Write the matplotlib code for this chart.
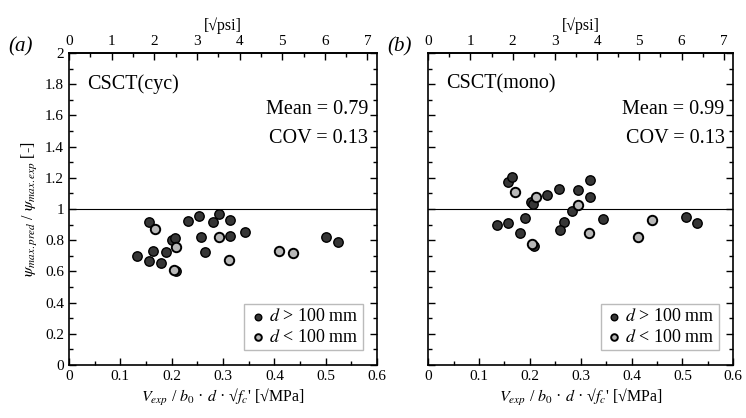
import numpy as np
import matplotlib
matplotlib.use('Agg')
import matplotlib.pyplot as plt
from matplotlib.ticker import MultipleLocator, FuncFormatter

plt.rcParams['font.family'] = ['Liberation Serif', 'DejaVu Serif']
plt.rcParams['mathtext.fontset'] = 'stix'
plt.rcParams['font.size'] = 11

# sqrt(MPa) -> sqrt(psi)
K = np.sqrt(145.038)

# CSCT(cyc): d > 100 mm
cyc_big_x = [0.155, 0.231, 0.254, 0.280, 0.292, 0.314, 0.200, 0.206, 0.257, 0.314,
             0.342, 0.133, 0.164, 0.155, 0.179, 0.189, 0.209, 0.264, 0.500, 0.524]
cyc_big_y = [0.914, 0.920, 0.955, 0.914, 0.970, 0.927, 0.800, 0.812, 0.820, 0.826,
             0.850, 0.697, 0.731, 0.667, 0.652, 0.725, 0.600, 0.725, 0.820, 0.790]
# CSCT(cyc): d < 100 mm
cyc_small_x = [0.168, 0.209, 0.292, 0.205, 0.312, 0.409, 0.437]
cyc_small_y = [0.873, 0.755, 0.820, 0.608, 0.673, 0.731, 0.720]

# CSCT(mono): d > 100 mm
mono_big_x = [0.156, 0.165, 0.203, 0.207, 0.233, 0.257, 0.295, 0.318, 0.318, 0.283,
              0.135, 0.156, 0.191, 0.180, 0.267, 0.259, 0.209, 0.344, 0.506, 0.529]
mono_big_y = [1.174, 1.205, 1.045, 1.035, 1.090, 1.130, 1.120, 1.187, 1.077, 0.990,
              0.895, 0.912, 0.940, 0.843, 0.916, 0.863, 0.760, 0.933, 0.946, 0.908]
# CSCT(mono): d < 100 mm
mono_small_x = [0.170, 0.211, 0.295, 0.205, 0.316, 0.413, 0.441]
mono_small_y = [1.110, 1.080, 1.026, 0.778, 0.843, 0.820, 0.927]

panels = [
    ('(a)', 'CSCT(cyc)', 'Mean = 0.79', 'COV = 0.13',
     cyc_big_x, cyc_big_y, cyc_small_x, cyc_small_y),
    ('(b)', 'CSCT(mono)', 'Mean = 0.99', 'COV = 0.13',
     mono_big_x, mono_big_y, mono_small_x, mono_small_y),
]

fig = plt.figure(figsize=(7.46, 4.18), dpi=100)
rects = [[0.0925, 0.127, 0.413, 0.746], [0.574, 0.127, 0.409, 0.746]]
tag_x = [0.028, 0.535]

dark = '#363636'
light = '#b8b8b8'
fmt = FuncFormatter(lambda v, pos: '%g' % round(v, 2))

for i, (rect, p) in enumerate(zip(rects, panels)):
    tag, name, mean, cov, bx, by, sx, sy = p
    ax = fig.add_axes(rect)
    ax.axhline(1.0, color='k', lw=0.8, zorder=1)
    ax.scatter(bx, by, s=46, c=dark, edgecolors='k', linewidths=1.0, zorder=3,
               label=r'$d$ > 100 mm')
    ax.scatter(sx, sy, s=46, c=light, edgecolors='k', linewidths=1.4, zorder=4,
               label=r'$d$ < 100 mm')

    ax.set_xlim(0, 0.6)
    ax.set_ylim(0, 2)
    ax.xaxis.set_major_locator(MultipleLocator(0.1))
    ax.xaxis.set_minor_locator(MultipleLocator(0.05))
    ax.yaxis.set_major_locator(MultipleLocator(0.2))
    ax.yaxis.set_minor_locator(MultipleLocator(0.1))
    ax.xaxis.set_major_formatter(fmt)
    ax.yaxis.set_major_formatter(fmt)
    ax.tick_params(which='both', direction='in', right=True, labelsize=11,
                   width=1.0)
    ax.tick_params(which='major', length=5)
    ax.tick_params(which='minor', length=3)
    for sp in ax.spines.values():
        sp.set_linewidth(1.2)
    if i == 1:
        ax.tick_params(labelleft=False)
    else:
        ax.set_ylabel(r'$\psi_{max.pred}$ / $\psi_{max.exp}$ [-]', fontsize=11.5,
                      labelpad=4)

    ax.set_xlabel(r"$V_{exp}$ / $b_0$ · $d$ · √$f_c$' [√MPa]", fontsize=11.5,
                  labelpad=3)

    top = ax.secondary_xaxis('top', functions=(lambda v: v * K, lambda v: v / K))
    top.xaxis.set_major_locator(MultipleLocator(1))
    top.xaxis.set_minor_locator(MultipleLocator(0.5))
    top.tick_params(which='both', direction='in', labelsize=11, width=1.0)
    top.tick_params(which='major', length=5)
    top.tick_params(which='minor', length=3)
    top.set_xlabel('[√psi]', fontsize=11.5, labelpad=4)
    top.spines['top'].set_linewidth(1.2)

    ax.text(0.035, 1.8, name, fontsize=14.5, ha='left', va='center')
    ax.text(0.583, 1.64, mean, fontsize=14.5, ha='right', va='center')
    ax.text(0.583, 1.45, cov, fontsize=14.5, ha='right', va='center')
    fig.text(tag_x[i], 0.888, tag, fontsize=15, style='italic',
             ha='center', va='center')

    leg = ax.legend(loc='lower right', fontsize=13, frameon=True, fancybox=False,
                    edgecolor='#aaaaaa', handletextpad=0.1, borderpad=0.25,
                    labelspacing=0.2, handlelength=1.0, markerscale=0.7,
                    borderaxespad=0.8)
    leg.get_frame().set_linewidth(1.0)

fig.savefig('out.png', dpi=100)
